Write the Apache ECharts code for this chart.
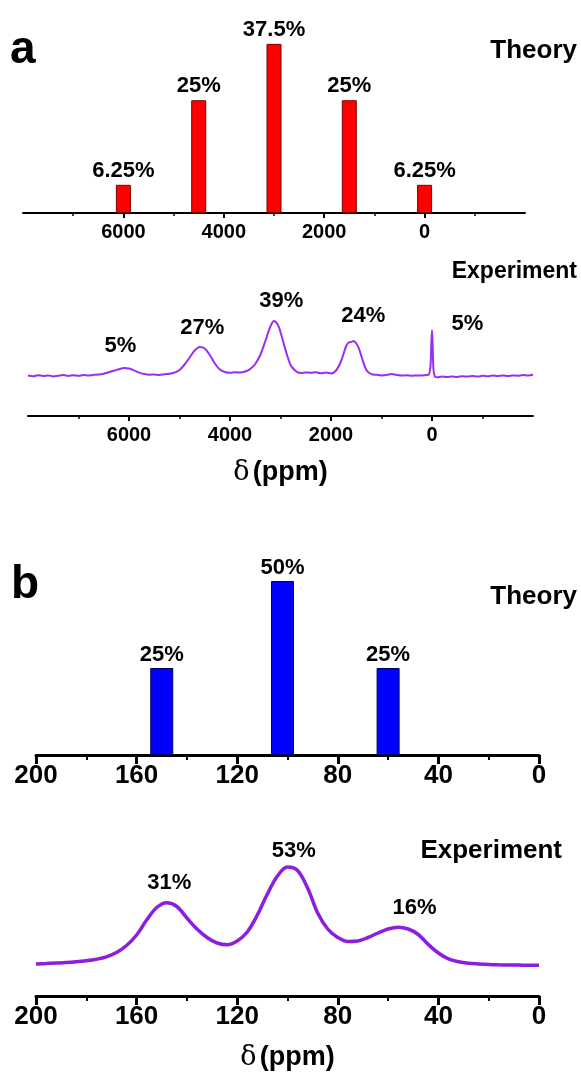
<!DOCTYPE html>
<html>
<head>
<meta charset="utf-8">
<script src="https://cdn.jsdelivr.net/npm/echarts@6/dist/echarts.min.js"></script>
<style>
  html, body { margin: 0; padding: 0; background: #fff; }
  #chart { width: 581px; height: 1082px; }
</style>
</head>
<body>
<div id="chart"></div>
<script>
// panel a, theory: peak positions (ppm) and populations (%)
var aTheoryPos = [6000, 4500, 3000, 1500, 0];
var aTheoryVal = [6.25, 25, 37.5, 25, 6.25];

// panel a, experiment spectrum [ppm, intensity a.u.]
var aExpCurve = [
  [8000, 0.5], [7900, -0.3], [7800, 0.8], [7700, 0], [7600, 0.6], [7500, -0.4],
  [7400, 0.3], [7300, 0.9], [7200, 0.1], [7100, 0.7], [7000, 0.2], [6900, 1.0],
  [6800, 0.4], [6700, 1.2], [6600, 1.5], [6500, 2.3], [6400, 3.8], [6300, 5.2],
  [6200, 6.8], [6100, 7.9], [6000, 7.4], [5900, 5.6], [5800, 3.4], [5700, 2.0],
  [5600, 1.2], [5500, 1.6], [5400, 1.0], [5300, 1.8], [5200, 2.2], [5100, 3.4],
  [5000, 6.0], [4900, 11.5], [4800, 18.5], [4700, 25.5], [4600, 29.0], [4500, 27.5],
  [4400, 21.0], [4300, 12.5], [4200, 6.5], [4100, 4.0], [4000, 3.2], [3900, 3.8],
  [3800, 3.4], [3700, 4.5], [3600, 7.0], [3500, 12.0], [3400, 21.0], [3300, 35.0],
  [3200, 49.5], [3130, 55.0], [3050, 51.0], [3000, 44.0], [2900, 26.0], [2800, 11.0],
  [2700, 5.0], [2600, 3.0], [2500, 3.6], [2400, 3.2], [2300, 3.8], [2200, 2.8],
  [2100, 3.4], [2000, 2.6], [1900, 5.5], [1800, 15.0], [1700, 30.0], [1650, 33.5],
  [1600, 34.0], [1550, 35.0], [1500, 32.5], [1450, 28.0], [1400, 20.0], [1300, 6.0],
  [1200, 1.8], [1100, 1.2], [1000, 0.6], [900, 1.0], [800, 2.0], [700, 1.0],
  [600, 0.4], [500, 0.8], [400, 0.2], [300, 0.6], [200, 0.5], [100, 0.9],
  [60, 1.5], [30, 10], [15, 30], [0, 46], [-15, 28], [-30, 6], [-60, -0.8],
  [-100, -1.2], [-200, -0.6], [-300, -1.0], [-400, -0.4], [-500, -0.9], [-600, -0.3],
  [-700, -0.6], [-800, 0.1], [-900, -0.5], [-1000, 0.2], [-1100, -0.2], [-1200, 0.4],
  [-1300, 0.0], [-1400, 0.5], [-1500, 0.1], [-1600, 0.6], [-1700, 0.3], [-1800, 0.9],
  [-1900, 0.5], [-2000, 1.2]
];
// fitted populations written over the peaks
var aExpLabels = ['5%', '27%', '39%', '24%', '5%'];
var aExpLabelAt = [[6170, 30], [4550, 48], [2985, 75], [1360, 60], [-700, 52]];

// panel b, theory
var bTheoryPos = [150, 102, 60];
var bTheoryVal = [25, 50, 25];

// panel b, experiment spectrum
var bExpCurve = [
  [200, 0], [196, 0.4], [192, 0.9], [188, 1.4], [184, 2.2], [180, 3.3], [176, 4.8],
  [172, 7.2], [168, 11.5], [164, 18.5], [160, 29], [156, 44], [152, 56.5], [148, 61.3],
  [144, 57.5], [140, 46], [136, 35], [132, 26.5], [128, 21], [124, 19.2], [120, 23],
  [116, 32], [112, 49], [108, 70], [104, 88], [100, 97], [96, 93.5], [92, 76],
  [88, 51], [84, 35], [80, 26.5], [76, 22.5], [72, 23], [68, 26.5], [64, 31],
  [60, 35], [56, 36.7], [52, 35], [48, 29.5], [44, 19.5], [40, 11], [36, 5.2],
  [32, 2.2], [28, 0.7], [24, 0], [20, -0.5], [16, -0.8], [12, -1], [8, -1.1],
  [4, -1.2], [0, -1.2]
];
var bExpLabels = ['31%', '53%', '16%'];
var bExpLabelAt = [[147, 81], [97.5, 113], [49.5, 56]];

var aTicks = [6000, 4000, 2000, 0];
var bTicks = [200, 160, 120, 80, 40, 0];

var FONT = '"Liberation Sans", Arial, sans-serif';

function pairs(xs, ys) {
  return xs.map(function (x, i) { return [x, ys[i]]; });
}

function ppmAxis(gridIndex, min, max, ticks, big, name) {
  return {
    type: 'value',
    gridIndex: gridIndex,
    min: min,
    max: max,
    inverse: true,
    interval: big ? 40 : 2000,
    name: name || '',
    nameLocation: 'middle',
    nameGap: big ? 48 : 43,
    nameTextStyle: {
      rich: {
        d: { fontFamily: '"DejaVu Serif", serif', fontSize: 27, color: '#000' },
        p: { fontFamily: FONT, fontWeight: 'bold', fontSize: 27, color: '#000' }
      }
    },
    axisLine: { show: true, onZero: false, lineStyle: { color: '#000', width: big ? 3 : 2 } },
    axisTick: {
      show: true,
      customValues: ticks,
      length: big ? 9 : 5,
      lineStyle: { color: '#000', width: big ? 3 : 2 }
    },
    minorTick: {
      show: true,
      splitNumber: 2,
      length: big ? 5 : 3,
      lineStyle: { color: '#000', width: big ? 2 : 1.5 }
    },
    splitLine: { show: false },
    minorSplitLine: { show: false },
    axisLabel: {
      customValues: ticks,
      margin: big ? 8 : 9,
      color: '#000',
      fontFamily: FONT,
      fontWeight: 'bold',
      fontSize: big ? 26 : 20,
      formatter: function (v) { return String(v); }
    }
  };
}

function hiddenY(gridIndex, min, max) {
  return {
    type: 'value', gridIndex: gridIndex, min: min, max: max,
    show: false, splitLine: { show: false }
  };
}

function peakLabels(xAxisIndex, at, texts, size) {
  return {
    type: 'scatter',
    xAxisIndex: xAxisIndex,
    yAxisIndex: xAxisIndex,
    clip: false,
    symbolSize: 1,
    itemStyle: { color: 'rgba(0,0,0,0)', opacity: 1 },
    silent: true,
    data: at,
    label: {
      show: true,
      position: 'inside',
      color: '#000',
      opacity: 1,
      fontFamily: FONT,
      fontWeight: 'bold',
      fontSize: size,
      formatter: function (p) { return texts[p.dataIndex]; }
    }
  };
}

function pct(p) { return p.value[1] + '%'; }

var chart = echarts.init(document.getElementById('chart'), null, { renderer: 'canvas' });

chart.setOption({
  backgroundColor: '#fff',
  animation: false,
  grid: [
    { left: 23, width: 502, top: 10, height: 203 },
    { left: 28, width: 505, top: 296, height: 120 },
    { left: 36, width: 503, top: 563.6, height: 191.4 },
    { left: 36, width: 503, top: 839, height: 157 }
  ],
  xAxis: [
    ppmAxis(0, -2000, 8000, aTicks, false),
    ppmAxis(1, -2000, 8000, aTicks, false, '{d|δ} {p|(ppm)}'),
    ppmAxis(2, 0, 200, bTicks, true),
    ppmAxis(3, 0, 200, bTicks, true, '{d|δ} {p|(ppm)}')
  ],
  yAxis: [
    hiddenY(0, 0, 45),
    hiddenY(1, -40, 80),
    hiddenY(2, 0, 55),
    hiddenY(3, -32, 125)
  ],
  graphic: [
    { type: 'text', left: 10, top: 27, style: { text: 'a', font: 'bold 46px ' + FONT, fill: '#000' } },
    { type: 'text', right: 4, top: 38, style: { text: 'Theory', font: 'bold 26px ' + FONT, fill: '#000' } },
    { type: 'text', right: 4, top: 260, style: { text: 'Experiment', font: 'bold 23px ' + FONT, fill: '#000' } },
    { type: 'text', left: 11, top: 562, style: { text: 'b', font: 'bold 46px ' + FONT, fill: '#000' } },
    { type: 'text', right: 4, top: 584, style: { text: 'Theory', font: 'bold 26px ' + FONT, fill: '#000' } },
    { type: 'text', right: 19, top: 838, style: { text: 'Experiment', font: 'bold 26px ' + FONT, fill: '#000' } }
  ],
  series: [
    {
      type: 'bar',
      xAxisIndex: 0, yAxisIndex: 0,
      barWidth: 15,
      data: pairs(aTheoryPos, aTheoryVal),
      itemStyle: { color: '#ff0000', borderColor: '#7a0000', borderWidth: 1 },
      label: {
        show: true, position: 'top', distance: 3, color: '#000',
        fontFamily: FONT, fontWeight: 'bold', fontSize: 22, formatter: pct
      }
    },
    {
      type: 'line',
      xAxisIndex: 1, yAxisIndex: 1,
      data: aExpCurve,
      showSymbol: false,
      smooth: 0.3,
      lineStyle: { color: '#9a2ef0', width: 2 }
    },
    peakLabels(1, aExpLabelAt, aExpLabels, 22),
    {
      type: 'bar',
      xAxisIndex: 2, yAxisIndex: 2,
      barWidth: 23,
      data: pairs(bTheoryPos, bTheoryVal),
      itemStyle: { color: '#0000ff', borderColor: '#00005a', borderWidth: 1 },
      label: {
        show: true, position: 'top', distance: 2, color: '#000',
        fontFamily: FONT, fontWeight: 'bold', fontSize: 22, formatter: pct
      }
    },
    {
      type: 'line',
      xAxisIndex: 3, yAxisIndex: 3,
      data: bExpCurve,
      showSymbol: false,
      smooth: 0.35,
      lineStyle: { color: '#8c1ee0', width: 3.5 }
    },
    peakLabels(3, bExpLabelAt, bExpLabels, 22)
  ]
});
</script>
</body>
</html>
